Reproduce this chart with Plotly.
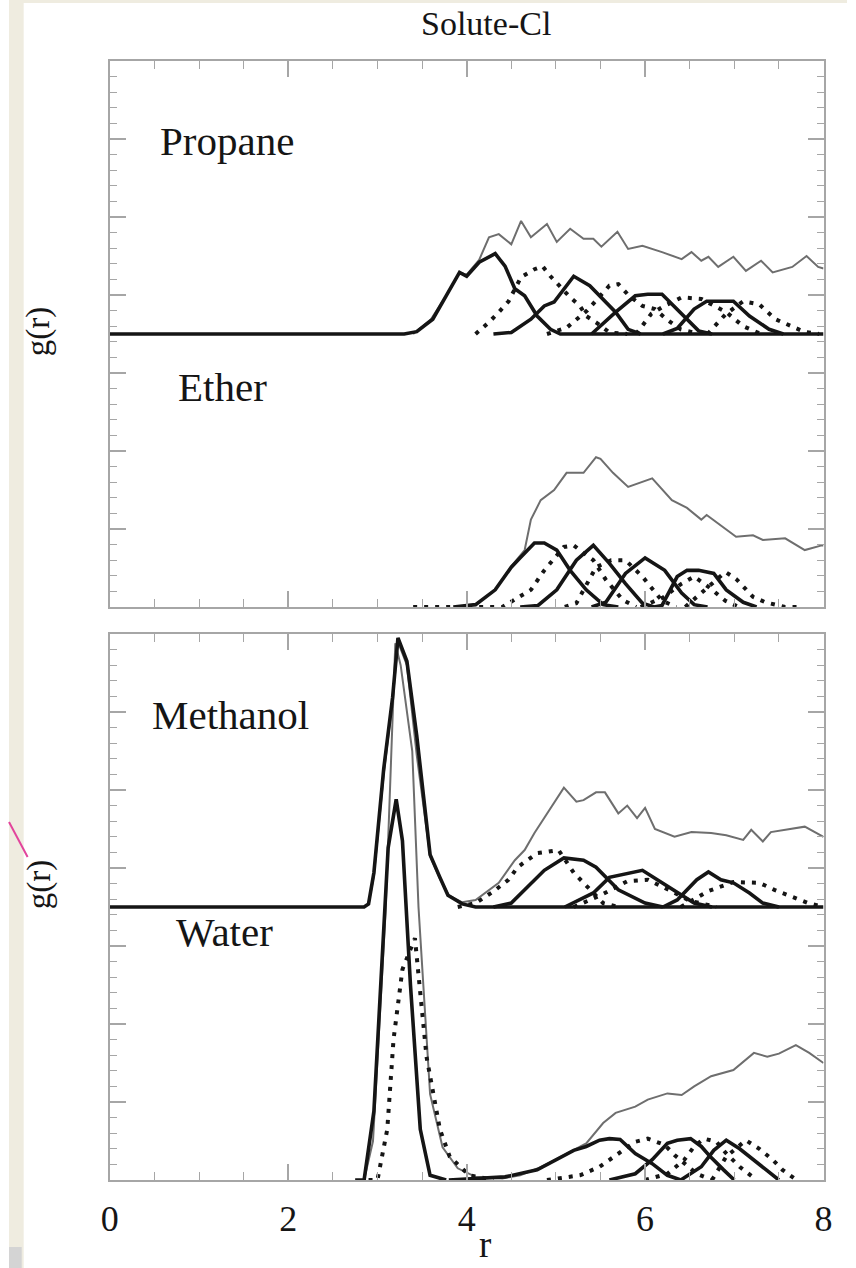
import plotly.graph_objects as go

W, H = 856, 1268

# ---------------- Propane (upper box, raised by 3.5) ----------------
PROPANE_TOTAL_R = [3.40, 3.60, 3.77, 3.92, 4.00, 4.14, 4.25, 4.36, 4.50, 4.61, 4.72, 4.90, 5.01,
                   5.16, 5.31, 5.42, 5.51, 5.69, 5.81, 5.97, 6.19, 6.41, 6.52, 6.63, 6.71, 6.82,
                   6.99, 7.13, 7.30, 7.43, 7.65, 7.81, 7.94, 8.00]
PROPANE_TOTAL_G = [0.00, 0.19, 0.49, 0.79, 0.76, 0.95, 1.24, 1.28, 1.15, 1.45, 1.24, 1.41, 1.18,
                   1.35, 1.22, 1.22, 1.12, 1.31, 1.09, 1.13, 1.05, 0.96, 1.05, 0.94, 0.99, 0.86,
                   0.99, 0.81, 0.94, 0.79, 0.86, 1.00, 0.86, 0.84]
PROPANE_S1_R = [0.00, 3.30, 3.44, 3.62, 3.77, 3.92, 4.00, 4.14, 4.32, 4.43, 4.54, 4.65, 4.79, 4.94, 5.05, 8.00]
PROPANE_S1_G = [0.00, 0.00, 0.03, 0.19, 0.49, 0.79, 0.74, 0.92, 1.03, 0.87, 0.58, 0.49, 0.23, 0.06, 0.00, 0.00]
PROPANE_S2_R = [4.10, 4.25, 4.36, 4.47, 4.61, 4.76, 4.85, 4.94, 5.16, 5.27, 5.34, 5.45, 5.60, 5.80]
PROPANE_S2_G = [0.00, 0.15, 0.28, 0.42, 0.73, 0.83, 0.87, 0.74, 0.47, 0.36, 0.23, 0.15, 0.02, 0.00]
PROPANE_S3_R = [4.30, 4.50, 4.72, 4.87, 4.98, 5.20, 5.38, 5.53, 5.67, 5.81, 5.95]
PROPANE_S3_G = [0.00, 0.02, 0.19, 0.36, 0.41, 0.74, 0.62, 0.45, 0.28, 0.06, 0.00]
PROPANE_S4_R = [4.90, 5.12, 5.35, 5.60, 5.70, 5.82, 5.97, 6.11, 6.25, 6.40, 6.60]
PROPANE_S4_G = [0.00, 0.08, 0.30, 0.62, 0.64, 0.49, 0.36, 0.32, 0.18, 0.06, 0.00]
PROPANE_S5_R = [5.40, 5.67, 5.89, 6.03, 6.19, 6.36, 6.47, 6.60, 6.75]
PROPANE_S5_G = [0.00, 0.28, 0.49, 0.51, 0.51, 0.32, 0.19, 0.04, 0.00]
PROPANE_S6_R = [5.90, 6.07, 6.20, 6.41, 6.63, 6.91, 7.10, 7.30]
PROPANE_S6_G = [0.00, 0.26, 0.35, 0.47, 0.45, 0.28, 0.10, 0.00]
PROPANE_S7_R = [6.20, 6.36, 6.55, 6.69, 6.99, 7.17, 7.39, 7.55]
PROPANE_S7_G = [0.00, 0.07, 0.32, 0.42, 0.42, 0.23, 0.06, 0.00]
PROPANE_S8_R = [6.70, 6.90, 7.10, 7.28, 7.46, 7.65, 7.78, 7.95]
PROPANE_S8_G = [0.00, 0.25, 0.42, 0.38, 0.19, 0.10, 0.03, 0.00]

# ---------------- Ether (upper box) ----------------
ETHER_TOTAL_R = [3.90, 4.10, 4.32, 4.50, 4.65, 4.72, 4.83, 4.98, 5.12, 5.31, 5.45, 5.50, 5.64,
                 5.81, 6.08, 6.30, 6.47, 6.63, 6.69, 7.02, 7.21, 7.32, 7.57, 7.79, 7.98, 8.00]
ETHER_TOTAL_G = [0.00, 0.03, 0.22, 0.52, 0.73, 1.12, 1.37, 1.50, 1.72, 1.72, 1.92, 1.90, 1.72,
                 1.54, 1.65, 1.37, 1.27, 1.12, 1.18, 0.90, 0.92, 0.86, 0.88, 0.73, 0.79, 0.79]
ETHER_S1_R = [3.85, 4.10, 4.32, 4.50, 4.60, 4.76, 4.87, 5.01, 5.16, 5.34, 5.53, 5.70]
ETHER_S1_G = [0.00, 0.03, 0.22, 0.51, 0.63, 0.82, 0.82, 0.73, 0.47, 0.22, 0.03, 0.00]
ETHER_S2_R = [3.40, 4.40, 4.72, 4.87, 5.09, 5.20, 5.42, 5.56, 5.75, 5.90]
ETHER_S2_G = [0.00, 0.00, 0.22, 0.47, 0.77, 0.79, 0.60, 0.35, 0.09, 0.00]
ETHER_S3_R = [4.60, 4.80, 5.01, 5.23, 5.42, 5.60, 5.78, 5.97, 6.10]
ETHER_S3_G = [0.00, 0.02, 0.22, 0.60, 0.79, 0.56, 0.30, 0.05, 0.00]
ETHER_S4_R = [5.10, 5.23, 5.45, 5.62, 5.78, 5.97, 6.19, 6.35]
ETHER_S4_G = [0.00, 0.05, 0.51, 0.60, 0.60, 0.39, 0.08, 0.00]
ETHER_S5_R = [5.40, 5.56, 5.78, 6.00, 6.22, 6.41, 6.55, 6.70]
ETHER_S5_G = [0.00, 0.06, 0.43, 0.63, 0.47, 0.18, 0.03, 0.00]
ETHER_S6_R = [5.95, 6.20, 6.41, 6.55, 6.72, 6.90, 7.05]
ETHER_S6_G = [0.00, 0.12, 0.30, 0.39, 0.25, 0.08, 0.00]
ETHER_S7_R = [6.10, 6.19, 6.36, 6.47, 6.60, 6.77, 6.91, 7.10, 7.25]
ETHER_S7_G = [0.00, 0.02, 0.39, 0.47, 0.47, 0.43, 0.22, 0.06, 0.00]
ETHER_S8_R = [6.45, 6.70, 6.90, 7.02, 7.21, 7.35, 7.57, 7.70]
ETHER_S8_G = [0.00, 0.25, 0.45, 0.36, 0.13, 0.06, 0.00, 0.00]

# ---------------- Methanol (lower box, raised by 3.5) ----------------
METHANOL_TOTAL_R = [2.85, 2.90, 2.96, 3.07, 3.17, 3.23, 3.33, 3.44, 3.59, 3.70, 3.80, 3.95, 4.10,
                    4.36, 4.54, 4.65, 4.76, 4.90, 5.09, 5.23, 5.31, 5.45, 5.55, 5.70, 5.80, 5.91,
                    6.00, 6.11, 6.33, 6.52, 6.74, 6.91, 7.10, 7.19, 7.32, 7.41, 7.57, 7.79, 8.00]
METHANOL_TOTAL_G = [0.00, 0.04, 0.40, 1.70, 2.65, 3.40, 3.10, 1.95, 0.65, 0.36, 0.15, 0.06, 0.09,
                    0.31, 0.60, 0.73, 0.95, 1.20, 1.53, 1.35, 1.37, 1.47, 1.47, 1.20, 1.30, 1.14,
                    1.27, 1.00, 0.90, 0.96, 0.95, 0.92, 0.86, 0.99, 0.84, 0.96, 0.99, 1.03, 0.90]
METHANOL_S1_R = [0.00, 2.85, 2.90, 2.96, 3.07, 3.17, 3.23, 3.33, 3.44, 3.59, 3.70, 3.79, 3.95, 4.10, 8.00]
METHANOL_S1_G = [0.00, 0.00, 0.04, 0.44, 1.77, 2.69, 3.45, 3.15, 2.20, 0.67, 0.38, 0.15, 0.04, 0.00, 0.00]
METHANOL_S2_R = [3.90, 4.10, 4.30, 4.47, 4.57, 4.68, 4.79, 5.03, 5.20, 5.31, 5.53, 5.70]
METHANOL_S2_G = [0.00, 0.05, 0.20, 0.35, 0.51, 0.60, 0.69, 0.73, 0.44, 0.31, 0.05, 0.00]
METHANOL_S3_R = [4.30, 4.50, 4.87, 5.09, 5.31, 5.45, 5.70, 6.00, 6.20]
METHANOL_S3_G = [0.00, 0.05, 0.47, 0.63, 0.60, 0.51, 0.22, 0.05, 0.00]
METHANOL_S4_R = [5.10, 5.42, 5.60, 5.97, 6.19, 6.55, 6.75]
METHANOL_S4_G = [0.00, 0.18, 0.38, 0.47, 0.31, 0.05, 0.00]
METHANOL_S5_R = [5.20, 5.50, 5.80, 6.03, 6.30, 6.50, 6.80]
METHANOL_S5_G = [0.00, 0.15, 0.33, 0.35, 0.20, 0.08, 0.00]
METHANOL_S6_R = [6.20, 6.36, 6.58, 6.71, 6.85, 6.99, 7.17, 7.32, 7.50]
METHANOL_S6_G = [0.00, 0.09, 0.35, 0.45, 0.35, 0.31, 0.18, 0.05, 0.00]
METHANOL_S7_R = [6.40, 6.70, 6.99, 7.28, 7.45, 7.65, 7.83, 8.00]
METHANOL_S7_G = [0.00, 0.20, 0.32, 0.31, 0.22, 0.13, 0.05, 0.00]

# ---------------- Water (lower box) ----------------
WATER_TOTAL_R = [2.85, 2.95, 3.09, 3.15, 3.20, 3.26, 3.39, 3.46, 3.59, 3.73, 3.90, 4.10, 4.40,
                 4.60, 4.80, 5.01, 5.20, 5.34, 5.53, 5.67, 5.89, 6.03, 6.25, 6.41, 6.55, 6.74,
                 6.99, 7.13, 7.22, 7.37, 7.50, 7.69, 7.84, 8.00]
WATER_TOTAL_G = [0.00, 0.50, 3.42, 5.30, 6.88, 6.60, 5.50, 3.50, 1.10, 0.42, 0.15, 0.04, 0.02,
                 0.06, 0.15, 0.27, 0.38, 0.47, 0.73, 0.86, 0.94, 1.03, 1.11, 1.09, 1.20, 1.33,
                 1.41, 1.54, 1.63, 1.58, 1.62, 1.73, 1.63, 1.50]
WATER_S1_R = [2.75, 2.85, 2.96, 3.04, 3.12, 3.21, 3.28, 3.37, 3.48, 3.59, 3.77]
WATER_S1_G = [0.00, 0.00, 0.88, 2.50, 4.26, 4.88, 4.35, 2.50, 0.65, 0.06, 0.00]
WATER_S2_R = [2.90, 3.00, 3.11, 3.18, 3.28, 3.42, 3.55, 3.70, 3.81, 4.03, 4.30]
WATER_S2_G = [0.00, 0.00, 0.65, 1.80, 2.70, 3.10, 1.58, 0.65, 0.30, 0.06, 0.00]
WATER_S3_R = [3.80, 4.43, 4.79, 5.01, 5.20, 5.34, 5.49, 5.60, 5.72, 5.89, 6.08, 6.25, 6.40]
WATER_S3_G = [0.00, 0.04, 0.13, 0.26, 0.38, 0.43, 0.51, 0.53, 0.52, 0.34, 0.21, 0.06, 0.00]
WATER_S4_R = [4.90, 5.27, 5.49, 5.67, 5.89, 6.03, 6.22, 6.33, 6.44, 6.58, 6.75]
WATER_S4_G = [0.00, 0.06, 0.17, 0.32, 0.49, 0.53, 0.45, 0.32, 0.21, 0.08, 0.00]
WATER_S5_R = [5.60, 5.89, 6.08, 6.25, 6.36, 6.51, 6.63, 6.73, 6.88, 7.00]
WATER_S5_G = [0.00, 0.08, 0.26, 0.47, 0.51, 0.53, 0.43, 0.30, 0.13, 0.00]
WATER_S6_R = [6.00, 6.25, 6.44, 6.55, 6.66, 6.80, 6.91, 7.06, 7.25]
WATER_S6_G = [0.00, 0.08, 0.26, 0.43, 0.53, 0.49, 0.34, 0.17, 0.00]
WATER_S7_R = [6.40, 6.63, 6.77, 6.91, 7.06, 7.21, 7.35, 7.50]
WATER_S7_G = [0.00, 0.17, 0.38, 0.51, 0.40, 0.26, 0.13, 0.00]
WATER_S8_R = [6.75, 6.91, 7.13, 7.28, 7.43, 7.54, 7.70]
WATER_S8_G = [0.00, 0.30, 0.51, 0.40, 0.26, 0.13, 0.00]

X_TICKS = [0, 2, 4, 6, 8]
X_TICK_TEXT = ["0", "2", "4", "6", "8"]

SERIF = "Liberation Serif, Times New Roman, serif"
INK = "#151515"
FRAME = "#a6a6a6"
PAGE = "#efece0"
TOTAL = dict(color="#6e6e6e", width=2.0)
SOLID = dict(color=INK, width=3.6)
DOTTED = dict(color=INK, width=4.0, dash="4px,7px")


def px(x):
    return x / W


def py(y):
    return 1 - y / H


fig = go.Figure()


def curve(r, g, style, offset, xa, ya):
    fig.add_trace(go.Scatter(
        x=r, y=[v + offset for v in g], mode="lines", line=style,
        xaxis=xa, yaxis=ya, showlegend=False, hoverinfo="skip"))


# each panel: (axes, vertical offset, total curve, solid shells, dotted shells)
PANELS = [
    (("x", "y"), 3.5, (PROPANE_TOTAL_R, PROPANE_TOTAL_G),
     [(PROPANE_S1_R, PROPANE_S1_G), (PROPANE_S3_R, PROPANE_S3_G),
      (PROPANE_S5_R, PROPANE_S5_G), (PROPANE_S7_R, PROPANE_S7_G)],
     [(PROPANE_S2_R, PROPANE_S2_G), (PROPANE_S4_R, PROPANE_S4_G),
      (PROPANE_S6_R, PROPANE_S6_G), (PROPANE_S8_R, PROPANE_S8_G)]),
    (("x", "y"), 0.0, (ETHER_TOTAL_R, ETHER_TOTAL_G),
     [(ETHER_S1_R, ETHER_S1_G), (ETHER_S3_R, ETHER_S3_G),
      (ETHER_S5_R, ETHER_S5_G), (ETHER_S7_R, ETHER_S7_G)],
     [(ETHER_S2_R, ETHER_S2_G), (ETHER_S4_R, ETHER_S4_G),
      (ETHER_S6_R, ETHER_S6_G), (ETHER_S8_R, ETHER_S8_G)]),
    (("x2", "y2"), 0.0, (WATER_TOTAL_R, WATER_TOTAL_G),
     [(WATER_S1_R, WATER_S1_G), (WATER_S3_R, WATER_S3_G),
      (WATER_S5_R, WATER_S5_G), (WATER_S7_R, WATER_S7_G)],
     [(WATER_S2_R, WATER_S2_G), (WATER_S4_R, WATER_S4_G),
      (WATER_S6_R, WATER_S6_G), (WATER_S8_R, WATER_S8_G)]),
    (("x2", "y2"), 3.5, (METHANOL_TOTAL_R, METHANOL_TOTAL_G),
     [(METHANOL_S1_R, METHANOL_S1_G), (METHANOL_S3_R, METHANOL_S3_G),
      (METHANOL_S4_R, METHANOL_S4_G), (METHANOL_S6_R, METHANOL_S6_G)],
     [(METHANOL_S2_R, METHANOL_S2_G), (METHANOL_S5_R, METHANOL_S5_G),
      (METHANOL_S7_R, METHANOL_S7_G)]),
]

for (xa, ya), off, total, solids, dots in PANELS:
    curve(total[0], total[1], TOTAL, off, xa, ya)
    for r, g in dots:
        curve(r, g, DOTTED, off, xa, ya)
    for r, g in solids:
        curve(r, g, SOLID, off, xa, ya)

X_DOMAIN = [px(103), px(832)]


def x_axis(anchor, labels):
    ax = dict(
        domain=X_DOMAIN, anchor=anchor, range=[0, 8], showgrid=False, zeroline=False,
        showline=True, linecolor=FRAME, linewidth=2, mirror="ticks",
        ticks="inside", tickmode="array", tickvals=X_TICKS, ticktext=X_TICK_TEXT,
        ticklen=16, tickwidth=1.6, tickcolor=FRAME,
        minor=dict(ticks="inside", dtick=0.5, tick0=0, ticklen=8, tickwidth=1.4, tickcolor=FRAME),
        showticklabels=labels, fixedrange=True,
    )
    if labels:
        ax.update(tickfont=dict(family=SERIF, size=36, color=INK), ticklabelstandoff=6)
    return ax


def y_axis(anchor, lo, hi):
    return dict(
        domain=[py(lo), py(hi)], anchor=anchor, range=[0, 7], showgrid=False, zeroline=False,
        showline=True, linecolor=FRAME, linewidth=2, mirror="ticks",
        ticks="inside", tick0=0, dtick=1, ticklen=16, tickwidth=1.6, tickcolor=FRAME,
        minor=dict(ticks="inside", dtick=0.2, ticklen=7, tickwidth=1.3, tickcolor=FRAME),
        showticklabels=False, fixedrange=True,
    )


def label(text, x, y, size, xanchor="left", angle=0, yanchor="middle"):
    return dict(text=text, x=px(x), y=py(y), xref="paper", yref="paper",
                xanchor=xanchor, yanchor=yanchor, showarrow=False, textangle=angle,
                font=dict(family=SERIF, size=size, color=INK))


annotations = [
    label("Solute-Cl", 487, 24, 34, xanchor="center"),
    label("Propane", 152, 141.5, 41),
    label("Ether", 171, 386.5, 41),
    label("Methanol", 144, 714.5, 41),
    label("Water", 169, 931.5, 41),
    label("g(r)", 31, 332, 33, xanchor="center", angle=-90),
    label("g(r)", 31, 885, 33, xanchor="center", angle=-90),
    label("r", 486, 1267, 37, xanchor="center", yanchor="bottom"),
]

shapes = [
    dict(type="rect", xref="paper", yref="paper", x0=0, x1=px(15), y0=0, y1=1,
         fillcolor=PAGE, line=dict(width=0), layer="below"),
    dict(type="rect", xref="paper", yref="paper", x0=0, x1=1, y0=py(3), y1=1,
         fillcolor=PAGE, line=dict(width=0), layer="below"),
    dict(type="rect", xref="paper", yref="paper", x0=0, x1=px(13), y0=0, y1=py(1247),
         fillcolor="#d4d4d4", line=dict(width=0), layer="below"),
    dict(type="line", xref="paper", yref="paper", x0=0, y0=py(822), x1=px(19), y1=py(857),
         line=dict(color="#e2449c", width=2)),
]

fig.update_layout(
    width=W, height=H, margin=dict(l=0, r=0, t=0, b=0),
    paper_bgcolor="white", plot_bgcolor="white", showlegend=False,
    xaxis=x_axis("y", False), yaxis=y_axis("x", 607, 61),
    xaxis2=x_axis("y2", True), yaxis2=y_axis("x2", 1180, 634),
    annotations=annotations, shapes=shapes,
)

# page around the figure: cream backdrop, no body margin
PAGE_FIT = (
    "document.documentElement.style.margin='0';"
    "document.documentElement.style.background='%s';"
    "document.body.style.margin='0';"
    "document.body.style.background='%s';"
    "window.scrollTo(0,0);" % (PAGE, PAGE)
)

fig.write_html("out.html", post_script=PAGE_FIT)
